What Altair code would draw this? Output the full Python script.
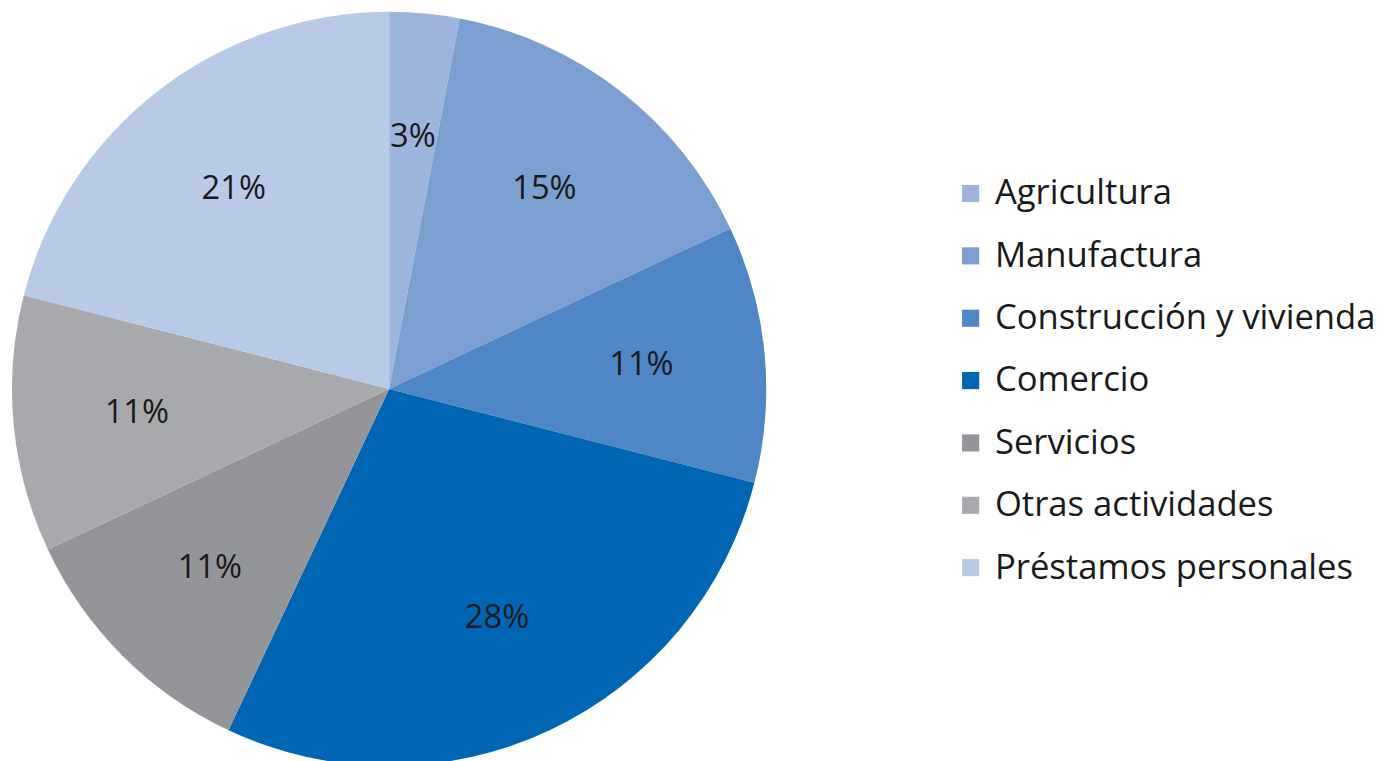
import altair as alt
import pandas as pd

categories = ["Agricultura", "Manufactura", "Construcción y vivienda", "Comercio",
              "Servicios", "Otras actividades", "Préstamos personales"]
values = [3, 15, 11, 28, 11, 11, 21]
labels = ["3%", "15%", "11%", "28%", "11%", "11%", "21%"]
colors = ["#9db4dc", "#7b9fd1", "#4f86c6", "#0066b3", "#939598", "#a7a9ac", "#b8cae6"]

df = pd.DataFrame({"cat": categories, "val": values, "lab": labels,
                   "order": list(range(len(categories)))})

FONT = "Open Sans"
CX, CY, R = 385, 378, 381

base = alt.Chart(df).encode(
    theta=alt.Theta("val:Q", stack=True),
    order=alt.Order("order:Q"),
)

pie = base.mark_arc(radius=R, stroke=None).encode(
    x=alt.value(CX), y=alt.value(CY),
    color=alt.Color("cat:N", scale=alt.Scale(domain=categories, range=colors),
                    sort=categories,
                    legend=alt.Legend(title=None, orient="none", legendX=955, legendY=163,
                                      symbolType="square", symbolSize=300,
                                      symbolStrokeWidth=0,
                                      labelFont=FONT, labelFontSize=35,
                                      labelColor="#1a1a1a", rowPadding=27,
                                      labelOffset=7, labelLimit=500)),
)

text = base.mark_text(radius=256, font=FONT, fontSize=33, color="#1a1a1a").encode(
    x=alt.value(CX), y=alt.value(CY),
    text="lab:N",
)

chart = (pie + text).properties(width=1360, height=740, padding=0).configure_view(stroke=None)

chart.save("out.html", embed_options={"renderer": "svg", "actions": False})
